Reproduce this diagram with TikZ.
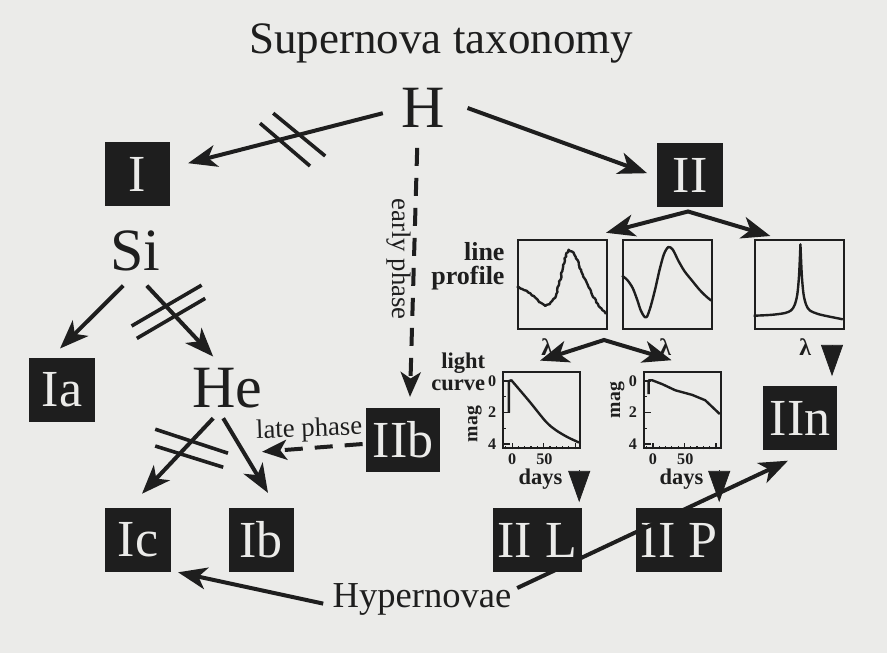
\documentclass[tikz,border=0pt]{standalone}
\usepackage{fontspec}
\setmainfont{Liberation Serif}
\usetikzlibrary{arrows.meta, calc, positioning, decorations.pathmorphing}
\definecolor{paper}{RGB}{235,235,233}
\definecolor{ink}{RGB}{30,30,30}

\begin{document}
\begin{tikzpicture}
 \tikzstyle{element}=[inner sep=0, text=ink, font=\fontsize{42.7}{44}\selectfont]
 \tikzstyle{sntype}=[rectangle, fill=ink, text=paper, inner xsep=1.7mm, minimum width=16.3mm, minimum height=16mm, font=\fontsize{37}{40}\selectfont]
 \tikzstyle{arr}=[->, draw=ink, line width=1mm, >={Stealth[length=7.2mm, width=5.5mm, inset=2mm]}]
 \tikzstyle{phase}=[arr, dash pattern=on 4.5mm off 3mm, >={Stealth[length=6.2mm, width=5mm, inset=1.6mm]}]
 \tikzstyle{cut}=[draw=ink, line width=0.9mm]
 \tikzstyle{tri}=[-{Triangle[length=7.8mm, width=5.5mm]}, draw=ink, line width=0.5pt]
 \tikzstyle{plotbox}=[rectangle, draw=ink, line width=0.5mm, inner sep=0]
 \tikzstyle{curve}=[draw=ink, line width=0.6mm, line join=round]
 \tikzstyle{lbl}=[inner sep=0, text=ink, font=\fontsize{19}{21}\selectfont]
 \tikzstyle{axis}=[inner sep=0, text=ink, font=\bfseries\fontsize{11.5}{12}\selectfont]

 \useasboundingbox (0,0) rectangle (22.175,-16.325);
 \fill [paper] (0,0) rectangle (22.175,-16.325);
 \pgfmathsetseed{7}

 \node (title) [lbl, font=\fontsize{32}{34}\selectfont] at (11.03,-1.08) {Supernova taxonomy};

 % Elements
 \node (H) [element] at (10.57,-2.7) {H};
 \node (Si) [element] at (3.38,-6.27) {Si};
 \node (He) [element] at (5.68,-9.7) {He};
 \node (hyper) [lbl, font=\fontsize{26}{28}\selectfont] at (10.55,-14.98) {Hypernovae};

 % Types
 \node (I) [sntype] at (3.43,-4.35) {I};
 \node (II) [sntype] at (17.25,-4.38) {II};
 \node (Ia) [sntype] at (1.55,-9.75) {Ia};
 \node (Ic) [sntype] at (3.45,-13.5) {Ic};
 \node (Ib) [sntype] at (6.53,-13.5) {Ib};
 \node (IIb) [sntype] at (10.08,-11.0) {IIb};
 \node (IIL) [sntype, inner xsep=1.2mm] at (13.43,-13.5) {II L};
 \node (IIP) [sntype, inner xsep=1.2mm] at (16.98,-13.5) {II P};
 \node (IIn) [sntype] at (20.0,-10.45) {IIn};

 % Line profiles
 \node (lp1) [plotbox, minimum size=22.3mm] at (14.06,-7.11) {};
 \node (lp2) [plotbox, minimum size=22.3mm] at (16.69,-7.11) {};
 \node (lp3) [plotbox, minimum size=22.3mm] at (19.98,-7.11) {};
 \node (lineprof) [lbl, align=right, anchor=north east, font=\bfseries\fontsize{18.5}{17}\selectfont] at ($ (lp1.north west) + (-0.3,-0.08) $) {line\\profile};
 \node (lam1) [lbl, font=\bfseries\fontsize{17}{18}\selectfont] at (13.68,-8.68) {λ};
 \node (lam2) [lbl, font=\bfseries\fontsize{17}{18}\selectfont] at (16.63,-8.68) {λ};
 \node (lam3) [lbl, font=\bfseries\fontsize{17}{18}\selectfont] at (20.13,-8.68) {λ};

 \begin{scope}[shift={(lp1.south west)}, x=22.3mm, y=22.3mm]
  \draw [curve, decorate, decoration={random steps, segment length=1.5pt, amplitude=0.5pt}] plot coordinates {(0,.49) (.06,.46) (.13,.42) (.2,.37) (.26,.31) (.32,.27) (.37,.29) (.43,.36) (.47,.50) (.51,.66) (.55,.84) (.58,.90) (.62,.88) (.66,.82) (.7,.72) (.74,.62) (.78,.54) (.83,.44) (.89,.31) (.95,.24) (1,.18)};
 \end{scope}
 \begin{scope}[shift={(lp2.south west)}, x=22.3mm, y=22.3mm]
  \draw [curve] plot [smooth] coordinates {(0,.61) (.06,.56) (.12,.47) (.17,.34) (.21,.22) (.25,.15) (.28,.15) (.32,.26) (.37,.45) (.42,.67) (.47,.85) (.52,.93) (.57,.90) (.63,.78) (.7,.66) (.78,.56) (.87,.45) (.94,.38) (1,.33)};
 \end{scope}
 \begin{scope}[shift={(lp3.south west)}, x=22.3mm, y=22.3mm]
  \draw [curve] plot [smooth, tension=.5] coordinates {(0,.16) (.2,.17) (.35,.19) (.42,.22) (.46,.28) (.49,.40) (.51,.62) (.525,.96)}
   -- plot [smooth, tension=.5] coordinates {(.525,.96) (.54,.62) (.56,.40) (.59,.28) (.63,.22) (.72,.18) (.85,.15) (1,.12)};
 \end{scope}

 % Light curves
 \node (lc1) [plotbox, minimum size=19.2mm] at (13.54,-10.25) {};
 \node (lc2) [plotbox, minimum size=19.2mm] at (17.06,-10.25) {};
 \node (lightcur) [lbl, align=right, anchor=north east, font=\bfseries\fontsize{16}{16}\selectfont] at ($ (lc1.north west) + (-0.42,0.45) $) {light\\curve};
 \node (mag1) [axis, rotate=90, font=\bfseries\fontsize{14}{15}\selectfont] at (11.86,-10.6) {mag};
 \node (mag2) [axis, rotate=90, font=\bfseries\fontsize{14}{15}\selectfont] at (15.43,-10.0) {mag};

 \foreach \lc in {lc1, lc2} {
  \begin{scope}[shift={(\lc.south west)}, x=19.2mm, y=19.2mm]
   \foreach \m/\len in {.89/.1, .685/.05, .48/.1, .275/.05, .07/.1}
    \draw [ink, line width=0.3mm] (0,\m) -- (\len,\m);
   \foreach \d in {-10,10,20,30,40,60,70,80,90}
    \draw [ink, line width=0.3mm] ({.13+\d*.0082},0) -- ++(0,.04);
   \foreach \d in {0,50,100}
    \draw [ink, line width=0.3mm] ({.13+\d*.0082},0) -- ++(0,.08);
   \node (m0-\lc) [axis] at (-.13,.89) {0};
   \node (m2-\lc) [axis] at (-.13,.48) {2};
   \node (m4-\lc) [axis] at (-.13,.07) {4};
   \node (d0-\lc) [axis] at (.13,-.13) {0};
   \node (d50-\lc) [axis] at (.55,-.13) {50};
   \node (days-\lc) [axis, font=\bfseries\fontsize{16}{17}\selectfont] at (.5,-.39) {days};
  \end{scope}
 }
 \begin{scope}[shift={(lc1.south west)}, x=19.2mm, y=19.2mm]
  \draw [curve] (.087,.48) -- (.087,.89) -- (.12,.90) -- plot [smooth] coordinates {(.12,.90) (.35,.63) (.57,.36) (.7,.25) (.85,.16) (1,.09)};
 \end{scope}
 \begin{scope}[shift={(lc2.south west)}, x=19.2mm, y=19.2mm]
  \draw [curve] (.074,.72) -- (.074,.90) -- (.12,.90) -- (.25,.85) -- (.42,.77) -- (.64,.71) -- (.81,.64) -- (1,.46);
 \end{scope}

 % Hydrogen
 \draw [arr] ($ (H.west) + (-0.45,-0.13) $) -- ($ (I.east) + (0.45,0.27) $);
 \draw [arr] ($ (H.east) + (0.57,0) $) -- ($ (II.west) + (-0.25,0.05) $);
 \draw [phase] ($ (H.south) + (-0.14,-0.5) $) -- ($ (IIb.north) + (0.17,0.27) $);
 \node (early) [lbl, rotate=-90] at (9.98,-6.48) {early phase};

 % Silicon
 \draw [arr] ($ (Si.south) + (-0.3,-0.36) $) -- ($ (Ia.north) + (-0.05,0.23) $);
 \draw [arr] ($ (Si.south) + (0.29,-0.36) $) -- ($ (He.north) + (-0.35,0.28) $);

 % Helium
 \draw [arr] ($ (He.south) + (-0.35,-0.25) $) -- ($ (Ic.north) + (0.1,0.35) $);
 \draw [arr] ($ (He.south) + (-0.1,-0.25) $) -- ($ (Ib.north) + (0.17,0.37) $);
 \draw [phase] ($ (IIb.west) + (-0.08,-0.1) $) -- ($ (Ib.north) + (0.02,1.4) $);
 \node (late) [lbl, rotate=2] at (7.73,-10.75) {late phase};

 % Forbidden lines
 \draw [cut] (6.5,-3.08) -- (7.75,-4.15);
 \draw [cut] (6.83,-2.83) -- (8.13,-3.9);
 \draw [cut] (3.29,-8.15) -- (5.04,-7.13);
 \draw [cut] (3.42,-8.46) -- (5.13,-7.46);
 \draw [cut] (3.88,-10.73) -- (5.7,-11.33);
 \draw [cut] (3.88,-11.15) -- (5.58,-11.68);

 % Type II
 \draw [arr, <->] ($ (lp1.north east) + (-0.05,0.15) $) -- ($ (II.south) + (-0.05,-0.1) $) -- ($ (lp3.north west) + (0.42,0.07) $);
 \coordinate (fork) at ($ (lp1.south east) + (-0.1,-0.25) $);
 \draw [arr, <->] ($ (lc1.north) + (-0.04,0.25) $) -- (fork) -- ($ (lc2.north) + (-0.27,0.26) $);

 \coordinate (tL) at (14.48,-11.76);
 \coordinate (tP) at (17.98,-11.76);
 \coordinate (tn) at (20.8,-8.63);
 \draw [tri, shorten >=1.4mm] (tL) -- (tL |- IIL.north);
 \draw [tri, shorten >=1.4mm] (tP) -- (tP |- IIP.north);
 \draw [tri, shorten >=2.4mm] (tn) -- (tn |- IIn.north);

 % Hypernovae
 \draw [arr] ($ (hyper.west) + (-0.23,-0.11) $) -- ($ (Ic.south east) + (0.18,0) $);
 \draw [arr] ($ (hyper.east) + (0.14,0.28) $) -- ($ (IIn.south) + (-0.3,-0.26) $);

\end{tikzpicture}
\end{document}
